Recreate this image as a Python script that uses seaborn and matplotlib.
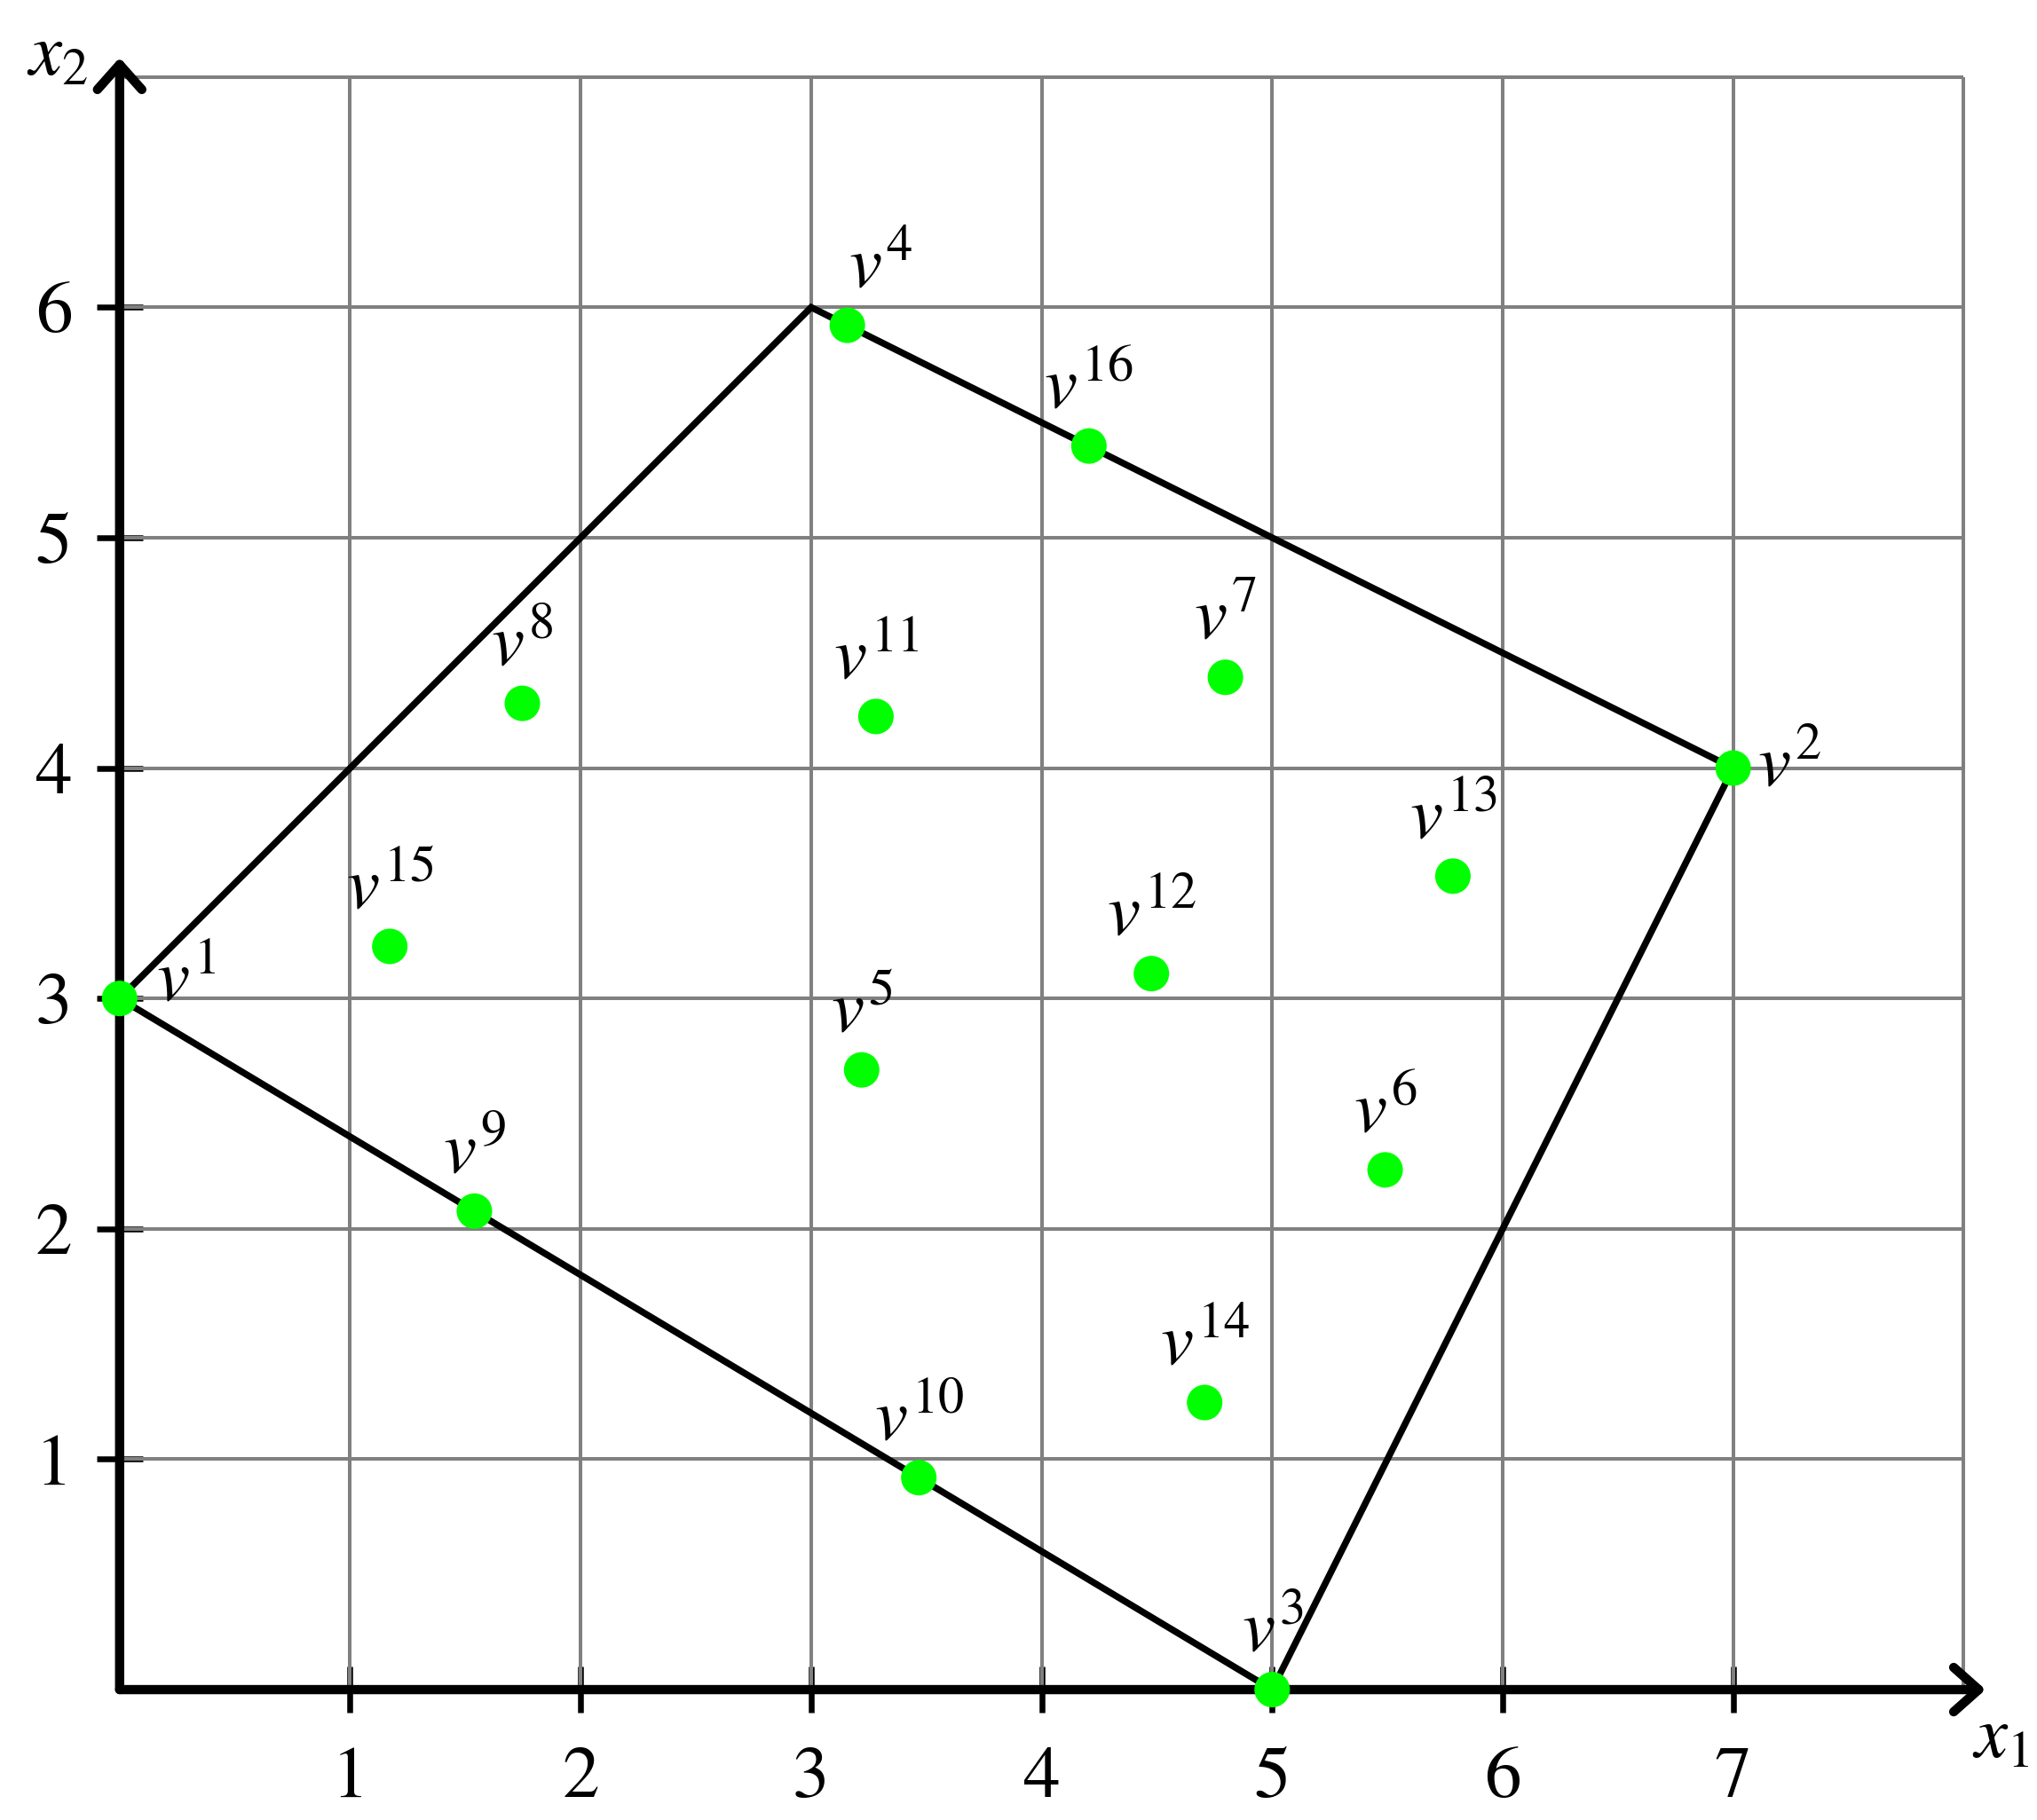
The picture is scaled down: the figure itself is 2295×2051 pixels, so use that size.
import matplotlib
matplotlib.use('Agg')
import matplotlib.pyplot as plt
import seaborn as sns
import pandas as pd

# polygon corners (closed)
poly_x = [0, 3, 7, 5, 0]
poly_y = [3, 6, 4, 0, 3]

# sample points v^1 ... v^16
pt_names = ['1', '2', '3', '4', '5', '6', '7', '8',
            '9', '10', '11', '12', '13', '14', '15', '16']
pt_x = [0.0, 7.0, 5.0, 3.157, 3.219, 5.49, 4.797, 1.747,
        1.539, 3.467, 3.281, 4.476, 5.784, 4.707, 1.172, 4.205]
pt_y = [3.0, 4.0, 0.0, 5.922, 2.69, 2.256, 4.394, 4.281,
        2.077, 0.92, 4.224, 3.108, 3.531, 1.246, 3.226, 5.398]

x_ticks = [1, 2, 3, 4, 5, 6, 7]
y_ticks = [1, 2, 3, 4, 5, 6]
grid_x = [1, 2, 3, 4, 5, 6, 7, 8]
grid_y = [1, 2, 3, 4, 5, 6, 7]

sns.set_style('white')
plt.rcParams['mathtext.fontset'] = 'stix'
plt.rcParams['font.family'] = ['STIXGeneral', 'DejaVu Serif']
plt.rcParams['text.color'] = 'black'

fig = plt.figure(figsize=(22.95, 20.51), dpi=100)
ax = fig.add_axes([0, 0, 1, 1])
ax.set_xlim(-0.519, 8.318)
ax.set_ylim(-0.566, 7.334)

# grid
ax.vlines(grid_x, 0, 7, color='#808080', lw=2.9, zorder=1)
ax.hlines(grid_y, 0, 8, color='#808080', lw=2.9, zorder=1)

# axes with arrows
arrow = dict(arrowstyle='->,head_length=0.45,head_width=0.4', lw=7.5,
             color='black', shrinkA=0, shrinkB=0, mutation_scale=45)
ax.annotate('', xy=(8.095, 0), xytext=(0, 0), arrowprops=arrow, zorder=3)
ax.annotate('', xy=(0, 7.084), xytext=(0, 0), arrowprops=arrow, zorder=3)
ax.text(8.16, -0.22, '$x_1$', fontsize=60, ha='center', va='center')
ax.text(-0.27, 7.08, '$x_2$', fontsize=60, ha='center', va='center')

for s in ax.spines.values():
    s.set_color('none')
ax.spines['left'].set_position(('data', 0))
ax.spines['bottom'].set_position(('data', 0))
ax.set_xticks(x_ticks)
ax.set_yticks(y_ticks)
ax.set_xticklabels([str(t) for t in x_ticks])
ax.set_yticklabels([str(t) for t in y_ticks])
ax.tick_params(axis='both', direction='inout', length=37, width=4.7,
               color='black', labelcolor='black', labelsize=60,
               bottom=True, left=True)
ax.tick_params(axis='x', pad=28)
ax.tick_params(axis='y', pad=20)

# polygon
ax.plot(poly_x, poly_y, color='black', lw=5.4, zorder=4, solid_joinstyle='miter')

# points
df = pd.DataFrame({'x': pt_x, 'y': pt_y, 'name': pt_names})
sns.scatterplot(data=df, x='x', y='y', ax=ax, color='#00ff00', s=830,
                edgecolor='none', zorder=5, legend=False)

for name, x, y in zip(pt_names, pt_x, pt_y):
    label = '$v^{%s}$' % name
    if name == '1':
        ax.annotate(label, (x, y), xytext=(30, 12), textcoords='offset points',
                    ha='left', va='center', fontsize=60)
    elif name == '2':
        ax.annotate(label, (x, y), xytext=(20, 0), textcoords='offset points',
                    ha='left', va='center', fontsize=60)
    elif name == '4':
        ax.annotate(label, (x, y), xytext=(27, 18), textcoords='offset points',
                    ha='center', va='bottom', fontsize=60)
    else:
        ax.annotate(label, (x, y), xytext=(0, 18), textcoords='offset points',
                    ha='center', va='bottom', fontsize=60)

ax.set_xlabel('')
ax.set_ylabel('')
fig.savefig('out.png', dpi=100)
